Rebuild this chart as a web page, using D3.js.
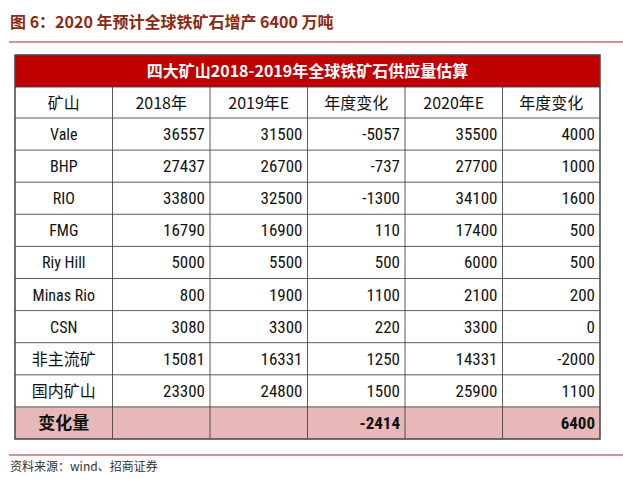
<!DOCTYPE html>
<html lang="en">
<head>
<meta charset="UTF-8">
<script src="https://d3js.org/d3.v7.min.js"></script>
<style>
  body { margin: 0; background: #fff; }
  .cjk { font-family: "Noto Sans CJK SC", sans-serif; }
  .num { font-family: "Liberation Sans Narrow", "Roboto Condensed", "Liberation Sans", sans-serif; }
</style>
</head>
<body>
<div id="chart"></div>
<script>
// table data
const columns = ["矿山", "2018年", "2019年E", "年度变化", "2020年E", "年度变化"];
const mines = ["Vale", "BHP", "RIO", "FMG", "Riy Hill", "Minas Rio", "CSN", "非主流矿", "国内矿山"];
const y2018 = [36557, 27437, 33800, 16790, 5000, 800, 3080, 15081, 23300];
const y2019 = [31500, 26700, 32500, 16900, 5500, 1900, 3300, 16331, 24800];
const chg2019 = [-5057, -737, -1300, 110, 500, 1100, 220, 1250, 1500];
const y2020 = [35500, 27700, 34100, 17400, 6000, 2100, 3300, 14331, 25900];
const chg2020 = [4000, 1000, 1600, 500, 500, 200, 0, -2000, 1100];
const totalLabel = "变化量";
const totals = ["", "", -2414, "", 6400];

const W = 623, H = 478;
const svg = d3.select("#chart").append("svg").attr("width", W).attr("height", H);

// figure title and rules
svg.append("text").attr("x", 10).attr("y", 28).attr("class", "cjk")
   .attr("font-size", 16).attr("font-weight", "bold").attr("fill", "#8a2a12")
   .text("图 6：2020 年预计全球铁矿石增产 6400 万吨");
svg.append("line").attr("x1", 9).attr("x2", 623).attr("y1", 42).attr("y2", 42)
   .attr("stroke", "#a52a2a").attr("stroke-width", 1.2);
svg.append("line").attr("x1", 9).attr("x2", 623).attr("y1", 455).attr("y2", 455)
   .attr("stroke", "#a52a2a").attr("stroke-width", 1.2);
svg.append("text").attr("x", 10).attr("y", 471).attr("class", "cjk")
   .attr("font-size", 12).attr("fill", "#333").text("资料来源：wind、招商证券");

// table geometry
const left = 15, right = 600;
const x = d3.scaleBand().domain(d3.range(columns.length)).range([left, right]);
const titleTop = 55, headTop = 87, bodyTop = 118;
const y = d3.scaleBand().domain(d3.range(mines.length + 1)).range([bodyTop, 439]);

const g = svg.append("g");
g.append("rect").attr("x", left).attr("y", titleTop).attr("width", right - left)
 .attr("height", headTop - titleTop).attr("fill", "#c00000");
g.append("text").attr("x", (left + right) / 2).attr("y", (titleTop + headTop) / 2 + 6)
 .attr("text-anchor", "middle").attr("class", "cjk").attr("font-size", 16)
 .attr("font-weight", "bold").attr("fill", "#fff").text("四大矿山2018-2019年全球铁矿石供应量估算");

// header
g.selectAll(".hd").data(columns).join("text")
 .attr("x", (d, i) => x(i) + x.bandwidth() / 2).attr("y", (headTop + bodyTop) / 2 + 6)
 .attr("text-anchor", "middle").attr("class", "cjk").attr("font-size", 16).attr("fill", "#111")
 .text(d => d);

// summary row background
const last = mines.length;
g.append("rect").attr("x", left).attr("y", y(last)).attr("width", right - left)
 .attr("height", y.bandwidth()).attr("fill", "#e6b8b7");

const rows = mines.map((m, i) => [m, y2018[i], y2019[i], chg2019[i], y2020[i], chg2020[i]]);
rows.forEach((r, i) => {
  r.forEach((v, j) => {
    const cy = y(i) + y.bandwidth() / 2 + 6;
    if (j === 0) {
      g.append("text").attr("x", x(0) + x.bandwidth() / 2).attr("y", cy)
       .attr("text-anchor", "middle").attr("class", /[\u4e00-\u9fff]/.test(v) ? "cjk" : "num")
       .attr("font-size", 16).attr("fill", "#111").text(v);
    } else {
      g.append("text").attr("x", x(j) + x.bandwidth() - 5).attr("y", cy)
       .attr("text-anchor", "end").attr("class", "num").attr("font-size", 17)
       .attr("fill", "#111").text(v);
    }
  });
});
const ty = y(last) + y.bandwidth() / 2 + 6;
g.append("text").attr("x", x(0) + x.bandwidth() / 2).attr("y", ty).attr("text-anchor", "middle")
 .attr("class", "cjk").attr("font-size", 17).attr("font-weight", "bold").attr("fill", "#111").text(totalLabel);
totals.forEach((v, j) => {
  g.append("text").attr("x", x(j + 1) + x.bandwidth() - 5).attr("y", ty).attr("text-anchor", "end")
   .attr("class", "num").attr("font-size", 17).attr("font-weight", "bold").attr("fill", "#111").text(v);
});

// grid lines
const gridColor = "#333";
[headTop, bodyTop].concat(d3.range(1, last + 1).map(i => y(i))).forEach(yy => {
  g.append("line").attr("x1", left).attr("x2", right).attr("y1", yy).attr("y2", yy)
   .attr("stroke", gridColor).attr("stroke-width", 0.8);
});
d3.range(1, columns.length).forEach(j => {
  g.append("line").attr("x1", x(j)).attr("x2", x(j)).attr("y1", headTop).attr("y2", 439)
   .attr("stroke", gridColor).attr("stroke-width", 0.8);
});
g.append("rect").attr("x", left).attr("y", titleTop).attr("width", right - left)
 .attr("height", 439 - titleTop).attr("fill", "none").attr("stroke", "#444").attr("stroke-width", 1.5);
</script>
</body>
</html>
